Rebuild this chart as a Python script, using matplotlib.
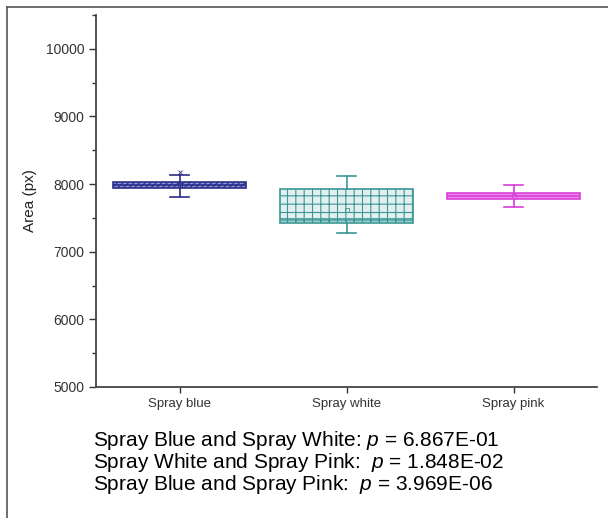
import matplotlib
matplotlib.use('Agg')
import matplotlib.pyplot as plt
from matplotlib.lines import Line2D
from matplotlib.ticker import MultipleLocator

plt.rcParams['font.family'] = ['Liberation Sans', 'DejaVu Sans']
plt.rcParams['mathtext.fontset'] = 'custom'
plt.rcParams['mathtext.it'] = 'Liberation Sans:italic'
plt.rcParams['mathtext.rm'] = 'Liberation Sans'
plt.rcParams['hatch.linewidth'] = 0.8

# box statistics
groups = ['Spray blue', 'Spray white', 'Spray pink']
q1 = [7945, 7430, 7785]
q3 = [8030, 7930, 7870]
med = [7990, 7480, 7830]
mean = [7985, 7620, 7830]
whislo = [7815, 7280, 7655]
whishi = [8140, 8125, 7990]
maxval = [8185, None, None]

edge_colors = ['#2b2e86', '#3a9696', '#d63fd6']
face_colors = ['#8d92d6', '#e2efef', '#f08af0']
hatches = ['//////', '++', None]

p_lines = [
    r'Spray Blue and Spray White: $p$ = 6.867E-01',
    r'Spray White and Spray Pink:  $p$ = 1.848E-02',
    r'Spray Blue and Spray Pink:  $p$ = 3.969E-06',
]

fig = plt.figure(figsize=(6.08, 5.18), dpi=100)
ax = fig.add_axes([0.158, 0.253, 0.824, 0.718])

for i in range(3):
    st = dict(q1=q1[i], q3=q3[i], med=med[i], mean=mean[i],
              whislo=whislo[i], whishi=whishi[i], fliers=[])
    c = edge_colors[i]
    b = ax.bxp([st], positions=[i + 1], widths=0.8, patch_artist=True,
               showmeans=True, capwidths=0.11,
               boxprops=dict(facecolor=face_colors[i], edgecolor=c, linewidth=1.2),
               whiskerprops=dict(color=c, linewidth=1.2),
               capprops=dict(color=c, linewidth=1.2),
               medianprops=dict(color=c, linewidth=1.2),
               meanprops=dict(marker='s', markersize=3, markerfacecolor='none',
                              markeredgecolor=c, markeredgewidth=0.6))
    if hatches[i]:
        b['boxes'][0].set_hatch(hatches[i])
    if maxval[i] is not None:
        ax.plot([i + 1], [maxval[i]], marker='x', markersize=3,
                color=c, markeredgewidth=0.6)

ax.set_xlim(0.5, 3.5)
ax.set_ylim(5000, 10500)
ax.set_xticks([1, 2, 3])
ax.set_xticklabels(groups, fontsize=9.5, color='#333333')
ax.yaxis.set_major_locator(MultipleLocator(1000))
ax.yaxis.set_minor_locator(MultipleLocator(500))
ax.set_yticks([5000, 6000, 7000, 8000, 9000, 10000])
ax.tick_params(axis='y', labelsize=10, colors='#333333', length=5, width=1)
ax.tick_params(axis='y', which='minor', length=3, width=1, color='#333333')
ax.tick_params(axis='x', length=4, width=1, color='#333333', pad=4)
ax.set_ylabel('Area (px)', fontsize=11, color='#222222', labelpad=6)
for s in ['top', 'right']:
    ax.spines[s].set_visible(False)
for s in ['left', 'bottom']:
    ax.spines[s].set_linewidth(1.3)
    ax.spines[s].set_color('#444444')

for k, line in enumerate(p_lines):
    fig.text(0.153, 1 - (440 + 22 * k) / 518, line, fontsize=15,
             va='center', ha='left', color='black')

# thin frame on the top and left edge
fig.add_artist(Line2D([7 / 608, 1], [1 - 7 / 518, 1 - 7 / 518],
                      transform=fig.transFigure, color='#555555', linewidth=1.2))
fig.add_artist(Line2D([7 / 608, 7 / 608], [0, 1 - 7 / 518],
                      transform=fig.transFigure, color='#555555', linewidth=1.2))

fig.savefig('out.png', dpi=100)
